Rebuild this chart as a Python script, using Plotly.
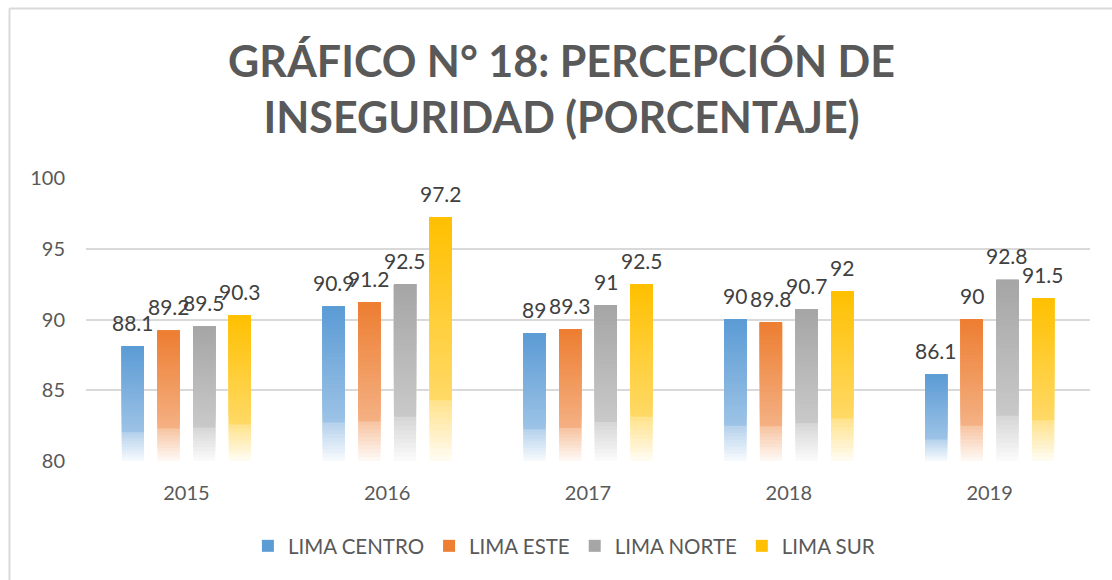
import plotly.graph_objects as go

years = ["2015", "2016", "2017", "2018", "2019"]
series_names = ["LIMA CENTRO", "LIMA ESTE", "LIMA NORTE", "LIMA SUR"]
lima_centro = [88.1, 90.9, 89.0, 90.0, 86.1]
lima_este = [89.2, 91.2, 89.3, 89.8, 90.0]
lima_norte = [89.5, 92.5, 91.0, 90.7, 92.8]
lima_sur = [90.3, 97.2, 92.5, 92.0, 91.5]
series_values = [lima_centro, lima_este, lima_norte, lima_sur]
colors = [(91, 155, 213), (237, 125, 49), (165, 165, 165), (255, 192, 0)]

Y_MIN, Y_MAX = 80, 100
N_SEG = 40

# plot-area geometry (pixels)
W, H = 1112, 580
ML, MR, MT, MB = 86, 22, 178, 119
PW, PH = W - ML - MR, H - MT - MB
SLOT_PX = 35.7  # width of one bar slot inside a category group


def mix(rgb, m):
    r, g, b = (round(255 + (c - 255) * m) for c in rgb)
    return f"rgb({r},{g},{b})"


def strength(t):
    # t: 0 bottom of bar -> 1 top of bar
    if t >= 0.25:
        return 0.6 + 0.4 * (t - 0.25) / 0.75
    return 0.04 + 0.42 * (t / 0.25)


fig = go.Figure()
for s, (name, vals, rgb) in enumerate(zip(series_names, series_values, colors)):
    for k in range(N_SEG):
        t = (k + 0.5) / N_SEG
        bases = [Y_MIN + (v - Y_MIN) * k / N_SEG for v in vals]
        heights = [v - b for v, b in zip(vals, bases)]
        fig.add_trace(go.Bar(
            x=years, y=heights, base=bases,
            name=name, offsetgroup=name, legendgroup=name,
            showlegend=(k == N_SEG - 1),
            marker=dict(color=mix(rgb, strength(t)), line=dict(width=0)),
            hoverinfo="skip",
        ))

# data labels
annotations = []
for s, vals in enumerate(series_values):
    for i, v in enumerate(vals):
        annotations.append(dict(
            x=i, y=v, xref="x", yref="y",
            text=f"{v:g}", showarrow=False,
            xshift=(s - 1.5) * SLOT_PX, yshift=24,
            font=dict(family="Lato", size=21, color="#404040"),
        ))


def px_x(px):
    return (px - ML) / PW


def px_y(py):
    return (H - MB - py) / PH


# chart border (top and left edges visible)
shapes = [
    dict(type="line", xref="paper", yref="paper",
         x0=px_x(9.5), x1=px_x(1120), y0=px_y(8.5), y1=px_y(8.5),
         line=dict(color="#D9D9D9", width=2)),
    dict(type="line", xref="paper", yref="paper",
         x0=px_x(9.5), x1=px_x(9.5), y0=px_y(8.5), y1=px_y(590),
         line=dict(color="#D9D9D9", width=2)),
]

fig.update_layout(
    width=W, height=H,
    margin=dict(l=ML, r=MR, t=MT, b=MB),
    paper_bgcolor="white", plot_bgcolor="white",
    barmode="group", bargap=0.29, bargroupgap=0.38,
    title=dict(
        text="<b>GRÁFICO N° 18: PERCEPCIÓN DE<br>INSEGURIDAD (PORCENTAJE)</b>",
        x=0.505, xanchor="center", y=1 - 77 / H, yanchor="middle",
        yref="container",
        font=dict(family="Lato", size=43, color="#595959"),
    ),
    xaxis=dict(
        type="category", showgrid=False, showline=False, ticks="",
        tickfont=dict(family="Lato", size=20, color="#595959"),
        ticklabelstandoff=18,
    ),
    yaxis=dict(
        range=[Y_MIN, Y_MAX], dtick=5, showgrid=True, gridcolor="#D9D9D9",
        gridwidth=1.5, zeroline=False, showline=False, ticks="",
        tickfont=dict(family="Lato", size=20, color="#595959"),
        ticklabelstandoff=20,
    ),
    legend=dict(
        orientation="h", x=0.476, xanchor="center", y=px_y(546), yanchor="middle",
        font=dict(family="Lato", size=20.5, color="#595959"),
        itemwidth=30, traceorder="normal",
    ),
    annotations=annotations,
    shapes=shapes,
    showlegend=True,
)

fig.write_html("out.html", config={"displayModeBar": False},
               post_script="document.body.style.margin='0';")
